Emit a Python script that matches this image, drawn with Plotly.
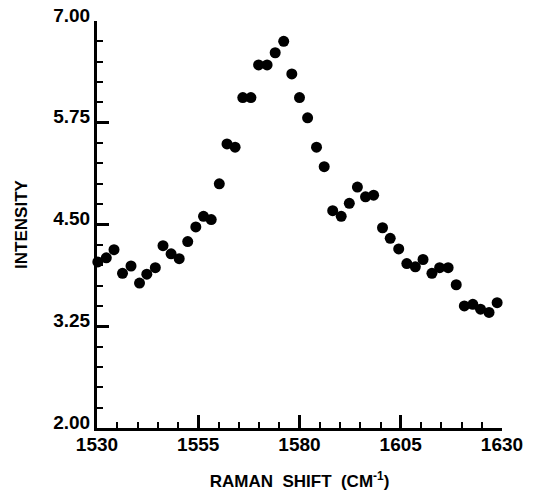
import plotly.graph_objects as go

raman_shift = [1530.2, 1532.3, 1534.2, 1536.3, 1538.4, 1540.5, 1542.3, 1544.4, 1546.3, 1548.3,
               1550.3, 1552.4, 1554.4, 1556.3, 1558.2, 1560.2, 1562.1, 1564.1, 1566.0, 1568.0,
               1569.9, 1572.0, 1574.0, 1576.1, 1578.1, 1580.0, 1582.0, 1584.2, 1586.1, 1588.2,
               1590.3, 1592.3, 1594.3, 1596.3, 1598.3, 1600.5, 1602.4, 1604.5, 1606.5, 1608.6,
               1610.5, 1612.7, 1614.6, 1616.7, 1618.7, 1620.7, 1622.8, 1624.7, 1626.8, 1628.8]
intensity = [4.04, 4.09, 4.19, 3.90, 3.99, 3.78, 3.89, 3.97, 4.24, 4.14,
             4.08, 4.29, 4.47, 4.60, 4.56, 5.00, 5.49, 5.45, 6.06, 6.06,
             6.46, 6.46, 6.61, 6.75, 6.35, 6.06, 5.81, 5.45, 5.21, 4.67,
             4.60, 4.76, 4.96, 4.84, 4.86, 4.46, 4.33, 4.20, 4.02, 3.98,
             4.07, 3.90, 3.97, 3.97, 3.76, 3.50, 3.52, 3.46, 3.42, 3.54]

x_ticks = [1530, 1555, 1580, 1605, 1630]
y_ticks = [2.00, 3.25, 4.50, 5.75, 7.00]

FONT = "Liberation Sans, Arial, sans-serif"

fig = go.Figure()
fig.add_trace(go.Scatter(
    x=raman_shift, y=intensity, mode="markers",
    marker=dict(color="black", size=11, line=dict(width=0)),
    cliponaxis=False, showlegend=False,
))

fig.update_layout(
    width=551, height=495,
    margin=dict(l=97, r=49, t=21, b=67),
    paper_bgcolor="white", plot_bgcolor="white",
    font=dict(family=FONT, color="black"),
)
fig.update_xaxes(
    range=[1530, 1630], tickvals=x_ticks, ticktext=[str(v) for v in x_ticks],
    automargin=False,
    showgrid=False, zeroline=False,
    showline=True, linecolor="black", linewidth=3,
    ticks="inside", ticklen=13, tickwidth=2.5, tickcolor="black",
    ticklabelstandoff=-3,
    minor=dict(dtick=5, tick0=1530, ticks="inside", ticklen=6, tickwidth=2, tickcolor="black", showgrid=False),
    tickfont=dict(family=FONT, size=19, color="black", weight="bold"),
    title=dict(text="RAMAN  SHIFT  (CM<sup>-1</sup>)", font=dict(family=FONT, size=17, color="black", weight="bold"), standoff=22),
)
fig.update_yaxes(
    range=[2, 7], tickvals=y_ticks, ticktext=["%.2f" % v for v in y_ticks],
    automargin=False,
    showgrid=False, zeroline=False,
    showline=True, linecolor="black", linewidth=3,
    ticks="inside", ticklen=12, tickwidth=2.5, tickcolor="black",
    ticklabelshift=-6,
    minor=dict(dtick=0.25, tick0=2, ticks="inside", ticklen=6, tickwidth=2, tickcolor="black", showgrid=False),
    tickfont=dict(family=FONT, size=19, color="black", weight="bold"),
    title=dict(text="INTENSITY", font=dict(family=FONT, size=17, color="black", weight="bold"), standoff=22),
)

fig.write_html("out.html")
